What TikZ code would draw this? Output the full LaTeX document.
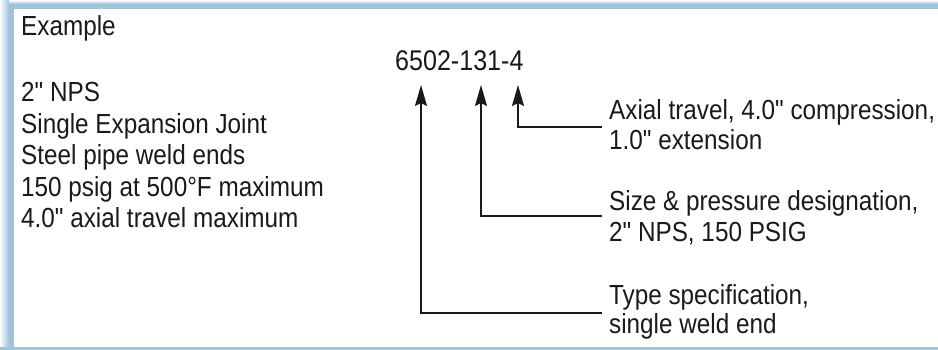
\documentclass[tikz,border=0pt]{standalone}
\usepackage{fontspec}
\setmainfont[FakeStretch=0.88, Ligatures=TeXOff]{Liberation Sans}
\usetikzlibrary{arrows.meta}
\definecolor{frameblue}{RGB}{158,196,219}
\definecolor{ink}{RGB}{25,25,30}
\begin{document}
\begin{tikzpicture}[x=1pt,y=-1pt,
  txt/.style={anchor=base west, inner sep=0pt, text=ink, font=\fontsize{27.6}{31}\selectfont},
  codetxt/.style={anchor=base west, inner sep=0pt, text=ink, font=\fontsize{28.5}{32}\selectfont},
  arr/.style={draw=ink, line width=1.4pt, -{Stealth[length=21pt,width=12pt,inset=3pt]}}]
\useasboundingbox (0,0) rectangle (938,350);
% frame
\fill[white] (0,0) rectangle (938,350);
\shade[left color=white, right color=frameblue] (0,0) rectangle (9,350);
\fill[frameblue] (9,0) rectangle (14,350);
\shade[top color=white, bottom color=frameblue] (9,0) rectangle (938,4);
\fill[frameblue] (9,4) rectangle (938,9);
\fill[frameblue] (0,347) rectangle (938,350);
% left text
\node[txt] (ex) at (21,36) {Example};
\node[txt] (l1) at (21,102) {2" NPS};
\node[txt] (l2) at (21,133.5) {Single Expansion Joint};
\node[txt] (l3) at (21,165) {Steel pipe weld ends};
\node[txt] (l4) at (21,196.5) {150 psig at 500°F maximum};
\node[txt] (l5) at (21,228) {4.0" axial travel maximum};
% code
\node[codetxt] (code) at (395,71) {6502-131-4};
% arrow tips and elbows
\coordinate (t1) at (421,85);
\coordinate (t2) at (481,85);
\coordinate (t3) at (518,85);
\coordinate (e1) at (602,313);
\coordinate (e2) at (602,216);
\coordinate (e3) at (602,127);
\draw[arr] (e3) -| (t3);
\draw[arr] (e2) -| (t2);
\draw[arr] (e1) -| (t1);
% right text
\node[txt] (a1) at (609,120) {Axial travel, 4.0" compression,};
\node[txt] (a2) at (609,150) {1.0" extension};
\node[txt] (b1) at (609,211) {Size \& pressure designation,};
\node[txt] (b2) at (609,241) {2" NPS, 150 PSIG};
\node[txt] (c1) at (609,304) {Type specification,};
\node[txt] (c2) at (609,333) {single weld end};
\end{tikzpicture}
\end{document}
